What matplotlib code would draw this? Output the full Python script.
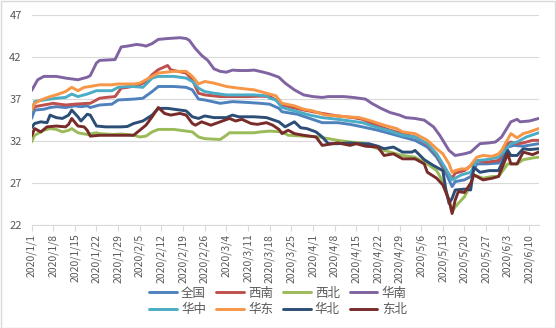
import numpy as np
import pandas as pd
import matplotlib
matplotlib.use("Agg")
import matplotlib.pyplot as plt
import matplotlib.dates as mdates
from matplotlib.patches import Rectangle

plt.rcParams['font.family'] = ['Noto Sans CJK SC', 'DejaVu Sans']

start = pd.Timestamp('2020-01-01')

# day offsets from 2020/1/1 and values
qg_day = [0, 1, 4, 6, 8, 11, 14, 16, 18, 19, 22, 26, 28, 33, 36, 39, 41, 46, 50, 52, 54, 56, 61, 65, 70, 74, 77, 80, 81,
          86, 90, 94, 99, 103, 107, 112, 116, 120, 124, 128, 131, 134, 136, 137, 140, 142, 144, 147, 151, 154, 156, 159, 164]
qg_val = [34.7, 35.7, 35.8, 36.0, 36.1, 36.0, 36.2, 36.1, 36.2, 36.0, 36.3, 36.4, 36.9, 37.0, 37.1, 37.9, 38.5, 38.5, 38.4,
          38.1, 37.0, 36.9, 36.5, 36.7, 36.6, 36.5, 36.4, 35.9, 35.5, 35.2, 34.7, 34.2, 34.2, 34.0, 33.7, 33.3, 32.9, 32.5,
          32.1, 31.3, 30.1, 28.2, 26.6, 27.2, 27.4, 27.8, 29.3, 29.3, 29.4, 31.3, 31.5, 31.4, 31.7]

xn_day = [0, 1, 4, 7, 11, 14, 18, 19, 22, 24, 27, 29, 31, 35, 37, 39, 41, 44, 45, 46, 50, 52, 54, 56, 61, 65, 70, 74, 77,
          79, 81, 88, 94, 99, 104, 107, 112, 116, 120, 124, 128, 131, 134, 136, 137, 140, 142, 144, 147, 151, 154, 155,
          157, 159, 162, 164]
xn_val = [35.5, 36.1, 36.3, 36.5, 36.3, 36.4, 36.5, 36.5, 37.1, 37.2, 37.3, 38.3, 38.4, 38.7, 39.1, 39.9, 40.5, 41.0, 40.5,
          40.4, 40.1, 39.3, 37.7, 37.5, 37.3, 37.3, 37.3, 37.35, 37.3, 36.9, 36.3, 35.7, 35.3, 35.0, 34.8, 34.6, 33.8, 33.3,
          32.9, 32.5, 31.6, 30.4, 28.5, 27.6, 28.2, 28.5, 29.1, 29.7, 29.5, 29.7, 31.7, 31.9, 31.7, 31.8, 32.1, 32.1]

xb_day = [0, 1, 4, 6, 8, 10, 12, 13, 15, 18, 21, 22, 26, 29, 31, 33, 35, 37, 39, 41, 46, 50, 52, 54, 56, 61, 63, 64, 67,
          72, 74, 77, 81, 83, 88, 93, 99, 103, 107, 112, 116, 120, 124, 128, 131, 133, 135, 136, 137, 140, 142, 143, 146,
          149, 151, 154, 157, 159, 162, 164]
xb_val = [31.9, 32.7, 33.3, 33.5, 33.4, 33.1, 33.3, 33.5, 33.0, 32.8, 33.0, 32.9, 32.8, 32.85, 32.8, 32.7, 32.5, 32.6, 33.1,
          33.4, 33.4, 33.2, 33.1, 32.5, 32.3, 32.2, 32.7, 33.0, 33.0, 33.0, 33.1, 33.2, 33.1, 32.7, 32.6, 32.5, 32.1, 31.9,
          31.8, 31.1, 30.7, 30.3, 30.1, 29.3, 28.5, 27.2, 25.0, 23.6, 24.2, 25.4, 26.8, 28.0, 27.6, 27.8, 27.8, 29.3, 29.3,
          29.8, 30.0, 30.1]

hn_day = [0, 2, 4, 8, 11, 15, 18, 19, 21, 22, 27, 29, 31, 34, 36, 37, 39, 41, 44, 48, 50, 51, 53, 55, 57, 59, 61, 63, 65,
          67, 70, 72, 75, 77, 80, 82, 85, 86, 88, 91, 94, 96, 101, 104, 108, 110, 113, 116, 119, 121, 124, 127, 130, 132,
          135, 137, 140, 142, 145, 148, 150, 152, 155, 157, 158, 161, 164]
hn_val = [38.0, 39.3, 39.7, 39.7, 39.5, 39.3, 39.6, 39.8, 41.3, 41.6, 41.7, 43.2, 43.3, 43.5, 43.4, 43.3, 43.6, 44.1, 44.2,
          44.3, 44.2, 44.0, 43.0, 42.2, 41.6, 40.6, 40.3, 40.2, 40.45, 40.4, 40.4, 40.45, 40.2, 40.0, 39.6, 38.9, 38.1, 37.9,
          37.5, 37.3, 37.2, 37.3, 37.3, 37.2, 37.0, 36.5, 35.9, 35.4, 35.1, 34.8, 34.7, 34.5, 33.7, 32.7, 30.9, 30.3, 30.5,
          30.7, 31.7, 31.8, 31.9, 32.5, 34.3, 34.6, 34.3, 34.4, 34.7]

hz_day = [0, 1, 4, 6, 8, 11, 13, 15, 18, 21, 26, 28, 31, 33, 36, 39, 41, 46, 50, 52, 54, 56, 59, 63, 67, 72, 76, 77, 79,
          81, 86, 90, 94, 99, 103, 107, 112, 116, 120, 124, 128, 131, 134, 136, 139, 142, 144, 147, 151, 155, 157, 160, 164]
hz_val = [35.5, 36.7, 36.9, 37.0, 37.1, 37.2, 37.6, 37.3, 37.6, 38.0, 38.0, 38.4, 38.5, 38.5, 38.4, 39.5, 39.7, 39.7, 39.5,
          39.1, 38.3, 37.9, 37.7, 37.5, 37.5, 37.5, 37.4, 37.1, 36.9, 36.0, 35.5, 35.1, 34.8, 34.6, 34.4, 34.2, 33.6, 33.2,
          32.7, 32.5, 31.7, 30.5, 28.7, 27.4, 28.0, 28.3, 29.7, 29.8, 30.1, 31.7, 31.9, 32.5, 33.0]

hd_day = [0, 1, 3, 6, 8, 11, 13, 15, 17, 19, 22, 26, 28, 33, 35, 37, 39, 41, 46, 50, 52, 54, 56, 59, 63, 67, 72, 76, 79,
          81, 85, 88, 91, 95, 99, 102, 106, 109, 114, 118, 120, 124, 128, 131, 133, 135, 136, 137, 139, 141, 144, 146, 149,
          151, 152, 155, 157, 159, 161, 164]
hd_val = [35.7, 36.5, 36.9, 37.3, 37.5, 37.9, 38.4, 38.0, 38.4, 38.5, 38.7, 38.7, 38.8, 38.8, 38.9, 39.3, 39.7, 40.1, 40.3,
          40.3, 39.7, 38.8, 39.1, 38.9, 38.5, 38.3, 38.1, 37.7, 37.4, 36.5, 36.2, 35.8, 35.6, 35.1, 35.0, 34.9, 34.8, 34.5,
          33.9, 33.5, 33.1, 32.9, 32.1, 31.1, 30.5, 29.3, 28.3, 28.5, 28.7, 28.7, 30.1, 30.3, 30.2, 30.5, 30.9, 32.9, 32.4,
          32.9, 33.1, 33.5]

hb_day = [0, 1, 3, 5, 6, 8, 10, 12, 13, 15, 16, 18, 19, 21, 24, 29, 31, 33, 36, 39, 41, 44, 48, 50, 52, 54, 56, 59, 63,
          65, 67, 72, 76, 80, 82, 85, 87, 89, 92, 94, 96, 99, 103, 106, 109, 112, 114, 117, 120, 123, 124, 127, 130, 133,
          134, 135, 136, 137, 140, 142, 143, 145, 148, 151, 154, 155, 157, 159, 161, 164]
hb_val = [33.6, 34.1, 34.3, 34.2, 35.1, 34.8, 34.7, 35.1, 35.7, 34.9, 34.4, 35.2, 35.1, 33.8, 33.7, 33.7, 33.75, 34.1, 34.4,
          35.1, 35.9, 35.9, 35.7, 35.6, 34.9, 34.7, 35.0, 34.8, 34.8, 35.1, 34.9, 34.9, 34.8, 34.3, 33.7, 34.3, 33.6, 33.5,
          33.1, 32.5, 31.7, 31.7, 31.8, 31.7, 31.7, 31.4, 31.1, 31.3, 30.7, 30.7, 30.9, 29.8, 29.1, 28.5, 26.2, 24.6, 25.2,
          26.2, 26.3, 26.2, 28.9, 28.3, 28.5, 28.5, 30.9, 30.3, 30.3, 31.1, 31.0, 31.1]

db_day = [0, 1, 3, 5, 8, 11, 12, 13, 15, 17, 18, 19, 22, 26, 31, 33, 35, 37, 39, 41, 43, 45, 48, 50, 52, 53, 55, 58, 61,
          64, 66, 68, 71, 73, 76, 78, 80, 81, 83, 85, 88, 92, 94, 99, 103, 105, 108, 112, 114, 117, 120, 124, 127, 128,
          131, 133, 135, 136, 137, 138, 140, 142, 143, 146, 149, 151, 154, 155, 157, 159, 162, 164]
db_val = [32.6, 33.5, 33.1, 33.7, 33.8, 33.7, 34.0, 34.7, 33.8, 33.7, 33.3, 32.6, 32.7, 32.7, 32.7, 32.7, 33.3, 33.9, 34.9,
          36.0, 35.3, 35.1, 35.3, 35.1, 34.1, 33.9, 34.3, 33.9, 34.3, 34.7, 34.4, 34.6, 34.1, 34.0, 34.2, 33.9, 33.4, 32.9,
          33.3, 32.9, 32.7, 32.5, 31.5, 31.8, 31.5, 31.7, 31.4, 31.3, 30.3, 30.5, 29.9, 29.9, 29.3, 28.3, 27.6, 26.8, 25.0,
          23.4, 25.0, 26.0, 25.9, 27.0, 28.0, 27.4, 27.6, 27.8, 30.5, 29.3, 29.3, 30.7, 30.4, 30.7]

names = ['全国', '西南', '西北', '华南', '华中', '华东', '华北', '东北']
colors = ['#4F81BD', '#C0504D', '#9BBB59', '#8064A2', '#4BACC6', '#F79646', '#2C4D75', '#772C2A']
series = [(qg_day, qg_val), (xn_day, xn_val), (xb_day, xb_val), (hn_day, hn_val),
          (hz_day, hz_val), (hd_day, hd_val), (hb_day, hb_val), (db_day, db_val)]

fig = plt.figure(figsize=(5.56, 3.28), dpi=100)
ax = fig.add_axes([0.0567, 0.3131, 0.9133, 0.6412])

lines = []
for name, col, (d, v) in zip(names, colors, series):
    x = start + pd.to_timedelta(d, unit='D')
    ln, = ax.plot(x, v, color=col, lw=2.1, label=name, solid_joinstyle='round', solid_capstyle='round')
    lines.append(ln)

ax.set_ylim(22, 47)
ax.set_yticks([22, 27, 32, 37, 42, 47])
ax.set_xlim(start, start + pd.Timedelta(days=164.2))
ticks = pd.date_range(start, periods=24, freq='7D')
ax.set_xticks(ticks)
ax.set_xticklabels([f"{t.year}/{t.month}/{t.day}" for t in ticks], rotation=90)

ax.grid(axis='y', color='#D9D9D9', lw=0.8)
ax.set_axisbelow(True)
for s in ['top', 'right', 'left']:
    ax.spines[s].set_visible(False)
ax.spines['bottom'].set_color('#D9D9D9')
ax.spines['bottom'].set_linewidth(0.8)
ax.tick_params(axis='y', length=0, pad=7, labelsize=8, labelcolor='#595959')
ax.tick_params(axis='x', length=4, width=0.8, color='#D9D9D9', pad=2, labelsize=7.5, labelcolor='#595959')

# legend fills column by column, so interleave to get the row order of the original
order = [0, 4, 1, 5, 2, 6, 3, 7]
fig.legend(handles=[lines[i] for i in order], loc='center', bbox_to_anchor=(0.5, 0.081), ncol=4, frameon=False,
           fontsize=9, handlelength=2.2, handletextpad=0.35, columnspacing=0.8, labelspacing=0.3,
           labelcolor='#595959')

fig.add_artist(Rectangle((0.001, 0.001), 0.997, 0.996, transform=fig.transFigure,
                         fill=False, edgecolor='#D9D9D9', lw=1))

fig.savefig('out.png', dpi=100)
